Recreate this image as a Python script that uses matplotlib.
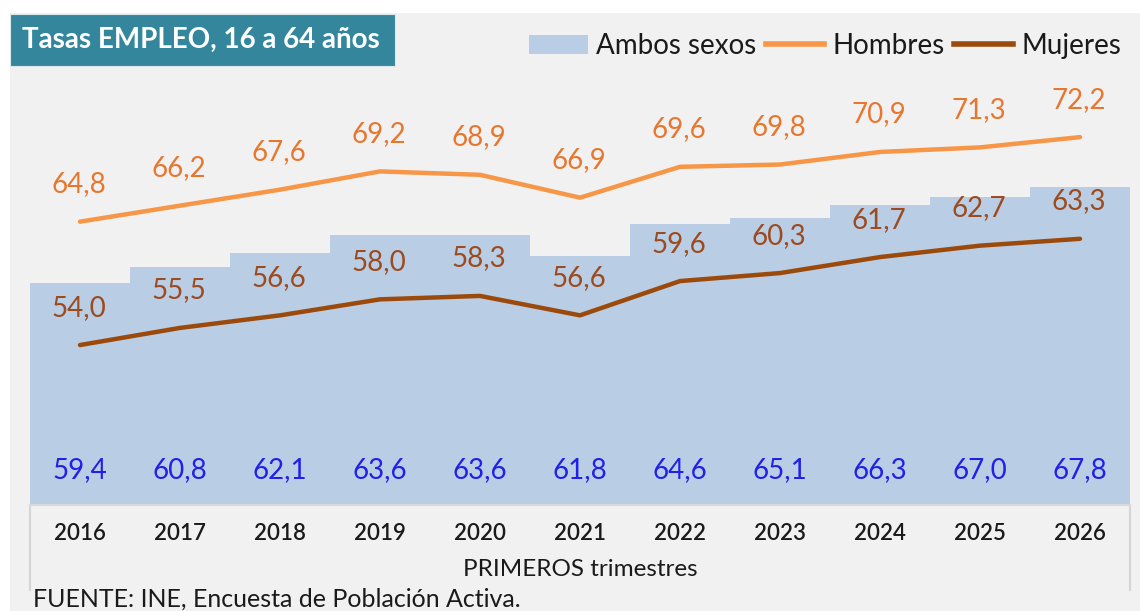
import matplotlib.pyplot as plt
from matplotlib.patches import Patch, Rectangle
from matplotlib.lines import Line2D

plt.rcParams['font.family'] = ['Lato', 'DejaVu Sans']

# datos (primeros trimestres)
years = ['2016', '2017', '2018', '2019', '2020', '2021', '2022', '2023', '2024', '2025', '2026']
ambos = [59.4, 60.8, 62.1, 63.6, 63.6, 61.8, 64.6, 65.1, 66.3, 67.0, 67.8]
hombres = [64.8, 66.2, 67.6, 69.2, 68.9, 66.9, 69.6, 69.8, 70.9, 71.3, 72.2]
mujeres = [54.0, 55.5, 56.6, 58.0, 58.3, 56.6, 59.6, 60.3, 61.7, 62.7, 63.3]

c_ambos = '#B9CDE5'
c_hom = '#F79646'
c_muj = '#9C4A0C'
c_lab_hom = '#E8772E'
c_lab_muj = '#9C4A1E'
c_lab_amb = '#2020E8'

W, H = 1140, 611
fig = plt.figure(figsize=(W / 100, H / 100), dpi=100, facecolor='white')

# fondo gris y caja del titulo
fig.patches.append(Rectangle((10 / W, 0), 1 - 10 / W, 1 - 13 / H, transform=fig.transFigure,
                             facecolor='#F1F1F1', edgecolor='none', zorder=-10))
fig.patches.append(Rectangle((10 / W, 1 - 66 / H), 385 / W, 52 / H, transform=fig.transFigure,
                             facecolor='#33869C', edgecolor='#DDE8EC', lw=0.8, zorder=-5))
fig.text(22 / W, 1 - 40 / H, 'Tasas EMPLEO, 16 a 64 años', color='white', fontsize=20,
         fontweight='bold', va='center', ha='left')

# bordes verticales del area de trazado (bajo las barras)
for xp in (30, 1130):
    fig.lines.append(Line2D([xp / W, xp / W], [1 - 590 / H, 1 - 505 / H], transform=fig.transFigure,
                            color='#D6D6D6', lw=1.5, zorder=-4))

ax = fig.add_axes([30 / W, (H - 505) / H, 1100 / W, 457 / H])
ax.set_facecolor('none')
x = list(range(len(years)))

ax.bar(x, ambos, width=1.0, bottom=0, color=c_ambos, zorder=1)
ax.plot(x, hombres, color=c_hom, lw=3.2, solid_capstyle='round', zorder=3)
ax.plot(x, mujeres, color=c_muj, lw=3.2, solid_capstyle='round', zorder=3)

ax.set_ylim(40, 80)
ax.set_xlim(-0.5, len(years) - 0.5)

for i in x:
    ax.annotate(f'{hombres[i]:.1f}'.replace('.', ','), (i, hombres[i]), xytext=(-1, 27),
                textcoords='offset points', ha='center', va='center', fontsize=20, color=c_lab_hom)
    ax.annotate(f'{mujeres[i]:.1f}'.replace('.', ','), (i, mujeres[i]), xytext=(-1, 27),
                textcoords='offset points', ha='center', va='center', fontsize=20, color=c_lab_muj)
    ax.text(i, 43.1, f'{ambos[i]:.1f}'.replace('.', ','), ha='center', va='center',
            fontsize=20, color=c_lab_amb, zorder=4)

ax.set_yticks([])
ax.set_xticks(x)
ax.set_xticklabels(years, fontsize=16, fontweight='semibold', color='#1A1A1A')
ax.tick_params(axis='x', length=0, pad=13)
for s in ['top', 'right', 'left']:
    ax.spines[s].set_visible(False)
ax.spines['bottom'].set_color('#D9D9D9')
ax.spines['bottom'].set_linewidth(1.5)
ax.set_xlabel('PRIMEROS trimestres', fontsize=17.5, color='#1A1A1A')
ax.xaxis.set_label_coords(0.5, -0.118)

handles = [Patch(facecolor=c_ambos, edgecolor='none'),
           Line2D([], [], color=c_hom, lw=4),
           Line2D([], [], color=c_muj, lw=4)]
fig.legend(handles, ['Ambos sexos', 'Hombres', 'Mujeres'], loc='center right',
           bbox_to_anchor=(1146 / W, 1 - 46 / H), ncol=3, frameon=False, fontsize=20,
           handlelength=2.1, handletextpad=0.3, columnspacing=0.35, labelcolor='#1A1A1A')

fig.text(33 / W, 1 - 599 / H, 'FUENTE: INE, Encuesta de Población Activa.', fontsize=18,
         color='#1A1A1A', va='center', ha='left')

fig.savefig('out.png', dpi=100, facecolor=fig.get_facecolor())
